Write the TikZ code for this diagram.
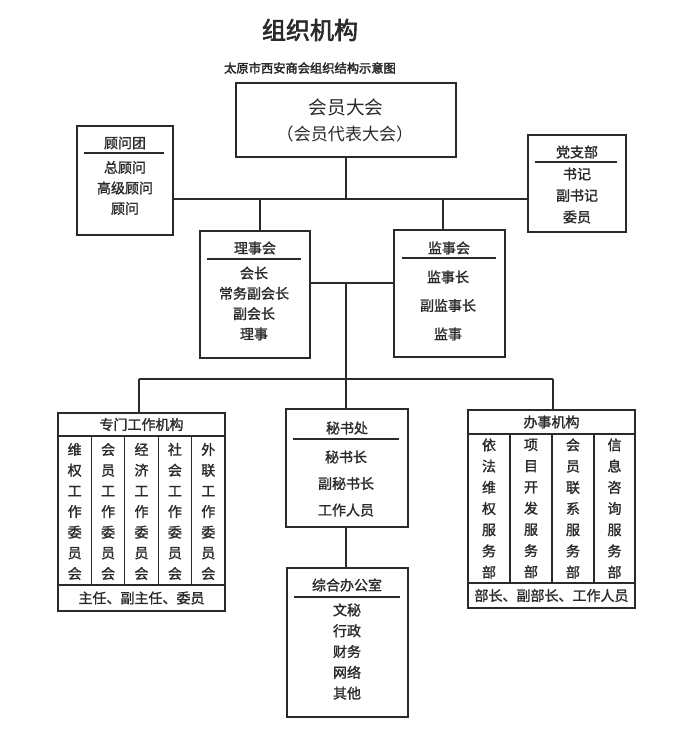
\documentclass[tikz,border=0pt]{standalone}
\usepackage{fontspec}
\newfontfamily\cjk{Noto Sans CJK SC}
\newfontfamily\cjkb[FakeBold=2.5]{Noto Sans CJK SC}
\newfontfamily\cjkm[FakeBold=1.4]{Noto Sans CJK SC}
\usetikzlibrary{fit}
\definecolor{ink}{HTML}{2A2A2A}
\begin{document}
\begin{tikzpicture}[x=0.75pt,y=-0.75pt,
  box/.style={draw=ink, line width=0.9pt, inner sep=0pt},
  ln/.style={draw=ink, line width=0.9pt},
  txt/.style={text=ink, inner sep=0pt, align=center, font=\cjkm\fontsize{10.5}{12}\selectfont},
  lst/.style={txt, font={\cjkm\fontsize{10.5}{#1}\selectfont}}]
\useasboundingbox[fill=white] (0,0) rectangle (700,729);

% titles
\node[txt, font=\cjkb\fontsize{18}{20}\selectfont] (title) at (310,30) {组织机构};
\node[txt, font=\cjkb\fontsize{9.2}{10}\selectfont] (subtitle) at (310,68) {太原市西安商会组织结构示意图};

% top box
\node[box, fit={(236,83) (456,157)}] (top) {};
\node[txt, font=\cjk\fontsize{14}{16}\selectfont] (top1) at (346,107) {会员大会};
\node[txt, font=\cjk\fontsize{12.8}{16}\selectfont] (top2) at (345,134) {（会员代表大会）};

% advisory
\node[box, fit={(77,126) (173,235)}] (gw) {};
\node[txt] (gwt) at (125,143) {顾问团};
\draw[ln] (84,153) -- (164,153);
\node[lst=15.4pt] (gwi) at (125,188) {总顾问\\高级顾问\\顾问};

% party branch
\node[box, fit={(528,135) (626,232)}] (dz) {};
\node[txt] (dzt) at (577,152) {党支部};
\draw[ln] (535,162) -- (617,162);
\node[lst=16.1pt] (dzi) at (577,195.5) {书记\\副书记\\委员};

% council
\node[box, fit={(200,231) (310,358)}] (ls) {};
\node[txt] (lst) at (255,248) {理事会};
\draw[ln] (207,259) -- (301,259);
\node[lst=15.2pt] (lsi) at (254,303.5) {会长\\常务副会长\\副会长\\理事};

% supervisory
\node[box, fit={(394,230) (505,357)}] (js) {};
\node[txt] (jst) at (449,248) {监事会};
\draw[ln] (402,258) -- (496,258);
\node[lst=21.4pt] (jsi) at (448,305.5) {监事长\\副监事长\\监事};

% special committees
\node[box, fit={(58,413) (225,611)}] (zm) {};
\node[txt] (zmt) at (141.5,424.5) {专门工作机构};
\draw[ln] (58,436) -- (225,436);
\draw[ln] (58,585) -- (225,585);
\foreach \xx in {91.4,124.8,158.2,191.6} \draw[ln] (\xx,436) -- (\xx,585);
\node[lst=15.5pt] (zm1) at (74.7,511.5) {维\\权\\工\\作\\委\\员\\会};
\node[lst=15.5pt] (zm2) at (108.1,511.5) {会\\员\\工\\作\\委\\员\\会};
\node[lst=15.5pt] (zm3) at (141.5,511.5) {经\\济\\工\\作\\委\\员\\会};
\node[lst=15.5pt] (zm4) at (174.9,511.5) {社\\会\\工\\作\\委\\员\\会};
\node[lst=15.5pt] (zm5) at (208.3,511.5) {外\\联\\工\\作\\委\\员\\会};
\node[txt] (zmb) at (141.5,598) {主任、副主任、委员};

% secretariat
\node[box, fit={(286,409) (408,527)}] (ms) {};
\node[txt] (mst) at (347,428) {秘书处};
\draw[ln] (293,439) -- (399,439);
\node[lst=19.9pt] (msi) at (346,483.5) {秘书长\\副秘书长\\工作人员};

% general office
\node[box, fit={(287,568) (408,717)}] (zh) {};
\node[txt] (zht) at (347,585) {综合办公室};
\draw[ln] (294,597) -- (400,597);
\node[lst=15.6pt] (zhi) at (347,651.5) {文秘\\行政\\财务\\网络\\其他};

% offices
\node[box, fit={(468,410) (635,608)}] (bs) {};
\node[txt] (bst) at (551.5,422) {办事机构};
\draw[ln] (468,434) -- (635,434);
\draw[ln] (468,583) -- (635,583);
\foreach \xx in {510,552,594} \draw[ln] (\xx,434) -- (\xx,583);
\node[lst=15.9pt] (bs1) at (489,508.5) {依\\法\\维\\权\\服\\务\\部};
\node[lst=15.9pt] (bs2) at (531,508.5) {项\\目\\开\\发\\服\\务\\部};
\node[lst=15.9pt] (bs3) at (573,508.5) {会\\员\\联\\系\\服\\务\\部};
\node[lst=15.9pt] (bs4) at (614.5,508.5) {信\\息\\咨\\询\\服\\务\\部};
\node[txt] (bsb) at (551.5,595.5) {部长、副部长、工作人员};

% connectors
\coordinate (j1) at (346,199);
\coordinate (c1) at (260,199);
\coordinate (c2) at (443,199);
\coordinate (j2) at (346,283);
\coordinate (j3) at (346,379);
\coordinate (d1) at (139,379);
\coordinate (d2) at (553,379);
\draw[ln] (top.south -| j1) -- (j1);
\draw[ln] (gw.east |- j1) -- (dz.west |- j1);
\draw[ln] (c1) -- (c1 |- ls.north);
\draw[ln] (c2) -- (c2 |- js.north);
\draw[ln] (ls.east |- j2) -- (js.west |- j2);
\draw[ln] (j2) -- (j3);
\draw[ln] (d1) -- (d2);
\draw[ln] (d1) -- (d1 |- zm.north);
\draw[ln] (j3) -- (j3 |- ms.north);
\draw[ln] (d2) -- (d2 |- bs.north);
\draw[ln] (ms.south -| j3) -- (j3 |- zh.north);
\end{tikzpicture}
\end{document}
